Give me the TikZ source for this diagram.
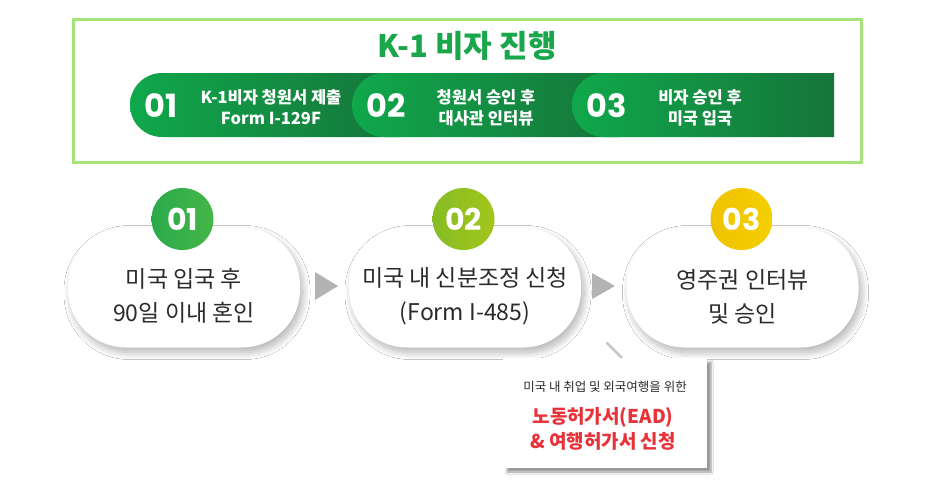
\documentclass[tikz,border=0pt]{standalone}
\usepackage{fontspec}
\setmainfont{Noto Sans CJK KR}
\newfontfamily\numfont{Poppins}
\usetikzlibrary{shadows.blur}
\definecolor{frameg}{HTML}{A5E27A}
\definecolor{bannerL}{HTML}{10A84B}
\definecolor{bannerD}{HTML}{16753B}
\definecolor{titleg}{HTML}{1AA64A}
\definecolor{cOneA}{HTML}{2BAA4A}
\definecolor{cOneB}{HTML}{45B649}
\definecolor{cTwoA}{HTML}{86BC25}
\definecolor{cTwoB}{HTML}{A3C61A}
\definecolor{cThreeA}{HTML}{EEC300}
\definecolor{cThreeB}{HTML}{F5CF00}
\definecolor{redt}{HTML}{E8323A}
\definecolor{textd}{HTML}{2B2B2B}
\definecolor{tri}{HTML}{B3B3B3}
\tikzset{
  pill/.style={fill=white, minimum width=232pt, minimum height=120pt, rounded corners=58pt, inner sep=0pt,
    blur shadow={shadow xshift=3pt, shadow yshift=-5pt, shadow blur steps=14, shadow opacity=30, shadow blur radius=7pt}},
  pilltext/.style={align=center, text=textd, font=\fontsize{23}{34}\selectfont, inner sep=0pt},
  numcircle/.style={circle, minimum size=62pt, inner sep=0pt, text=white, font=\numfont\bfseries\fontsize{30}{30}\selectfont},
  bannum/.style={text=white, font=\numfont\bfseries\fontsize{32}{32}\selectfont},
  bantext/.style={text=white, align=center, font=\bfseries\fontsize{16.5}{21}\selectfont},
  seg/.style={left color=bannerL, right color=bannerD},
  tribox/.style={fill=tri},
  cbox/.style={fill=white, minimum width=204pt, minimum height=110pt, inner sep=0pt,
    blur shadow={shadow xshift=4pt, shadow yshift=-4pt, shadow blur steps=6, shadow opacity=40, shadow blur radius=2pt}}
}
\begin{document}
\begin{tikzpicture}[x=1pt,y=-1pt]
\useasboundingbox (0,0) rectangle (936,485);
\fill[white] (0,0) rectangle (936,485);
% top frame
\node[draw=frameg, line width=3pt, minimum width=788pt, minimum height=143pt, inner sep=0pt] (frame) at (467.5,90.5) {};
\node[text=titleg, font=\bfseries\fontsize{31}{34}\selectfont] (title) at (467,46) {K-1 비자 진행};
% banner segments
\path[seg] (400,73) -- (162,73) arc[start angle=270, end angle=90, radius=32] -- (400,137) -- cycle;
\path[seg] (620,73) -- (384,73) arc[start angle=270, end angle=90, radius=32] -- (620,137) -- cycle;
\path[seg] (834,73) -- (604,73) arc[start angle=270, end angle=90, radius=32] -- (834,137) -- cycle;
\node[bannum] (bn1) at (161,106) {01};
\node[bannum] (bn2) at (386,106) {02};
\node[bannum] (bn3) at (607,106) {03};
\node[bantext] (bt1) at (271,107.5) {K-1비자 청원서 제출\\Form I-129F};
\node[bantext] (bt2) at (486,107.5) {청원서 승인 후\\대사관 인터뷰};
\node[bantext] (bt3) at (700,107.5) {비자 승인 후\\미국 입국};
% pointer of callout
\coordinate (ptA) at (607,343);
\coordinate (ptB) at (622,358);
\draw[black!22, line width=2.5pt, line cap=round] (ptA) -- (ptB);
% pills
\node[pill] (p1) at (184,287.5) {};
\node[pill] (p2) at (465,287.5) {};
\node[pill] (p3) at (742.5,287.5) {};
\node[pilltext] (p1t) at (184,295.5) {미국 입국 후\\90일 이내 혼인};
\node[pilltext] (p2t) at (465,296.5) {미국 내 신분조정 신청\\(Form I-485)};
\node[pilltext] (p3t) at (742.5,296.5) {영주권 인터뷰\\및 승인};
% number circles
\node[numcircle, left color=cOneA, right color=cOneB] (c1) at (182.5,219) {01};
\node[numcircle, left color=cTwoA, right color=cTwoB] (c2) at (463.5,219) {02};
\node[numcircle, left color=cThreeA, right color=cThreeB] (c3) at (741.5,219) {03};
% arrows between pills
\fill[tribox] (315,272) -- (338,286) -- (315,300) -- cycle;
\fill[tribox] (592,273) -- (615,286) -- (592,299) -- cycle;
% callout box
\node[cbox] (cb) at (605,413) {};
\node[text=textd, font=\fontsize{12.5}{14}\selectfont] (cs) at (605,387) {미국 내 취업 및 외국여행을 위한};
\node[text=redt, font=\bfseries\fontsize{19}{22}\selectfont] (cr1) at (603,417) {노동허가서(EAD)};
\node[text=redt, font=\bfseries\fontsize{19}{22}\selectfont] (cr2) at (603,441) {\& 여행허가서 신청};
\end{tikzpicture}
\end{document}
